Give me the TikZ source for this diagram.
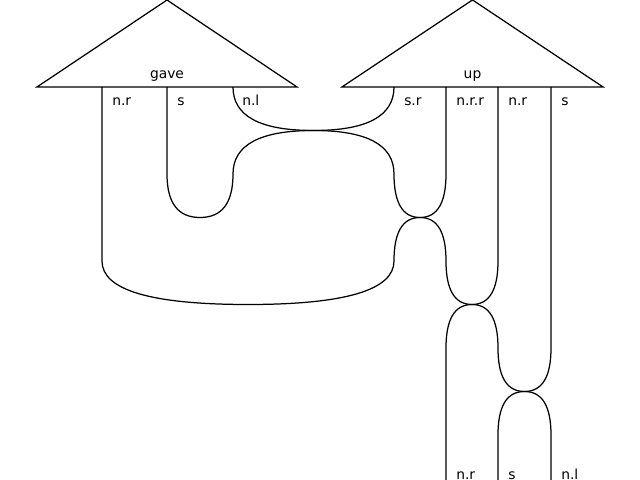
\documentclass[tikz,border=0pt]{standalone}
\usepackage{fontspec}
\setmainfont{DejaVu Sans}
\begin{document}
\begin{tikzpicture}[x=0.01in,y=-0.01in,
  wire/.style={line width=0.9pt},
  box/.style={line width=0.9pt},
  lab/.style={anchor=base west,inner sep=0pt,font=\fontsize{10pt}{12pt}\selectfont},
  boxlab/.style={anchor=base,inner sep=0pt,font=\fontsize{10pt}{12pt}\selectfont}]
\useasboundingbox (0,0) rectangle (640,480);
% triangles
\coordinate (gL) at (37,87); \coordinate (gT) at (167,0); \coordinate (gR) at (297,87);
\coordinate (uL) at (342,87); \coordinate (uT) at (472.5,0); \coordinate (uR) at (603,87);
\draw[box,line join=miter] (gL) -- (gT) -- (gR) -- cycle;
\draw[box,line join=miter] (uL) -- (uT) -- (uR) -- cycle;
\node[boxlab] (gave) at (167,79) {gave};
\node[boxlab] (up) at (472.5,79) {up};
% ports
\coordinate (p1) at (102,87); \coordinate (p2) at (167,87); \coordinate (p3) at (233,87);
\coordinate (p4) at (394,87); \coordinate (p5) at (446,87); \coordinate (p6) at (498,87);
\coordinate (p7) at (551,87);
% meeting points
\coordinate (mA) at (313.5,130.5);
\coordinate (mC) at (200,217.5);
\coordinate (mD) at (420,217.5);
\coordinate (mF) at (248,304.5);
\coordinate (mG) at (472,304.5);
\coordinate (mI) at (524.5,391.5);
% outputs
\coordinate (o1) at (446,480); \coordinate (o2) at (498,480); \coordinate (o3) at (551,480);
% wires
\draw[wire] (p3) .. controls +(0,29) and +(-53.7,0) .. (mA) .. controls +(53.7,0) and +(0,29) .. (p4);
\draw[wire] (233,174) .. controls +(0,-29) and +(-53.7,0) .. (mA) .. controls +(53.7,0) and +(0,-29) .. (394,174);
\draw[wire] (p2) -- (167,174) .. controls +(0,29) and +(-22,0) .. (mC) .. controls +(22,0) and +(0,29) .. (233,174);
\draw[wire] (394,174) .. controls +(0,29) and +(-17.3,0) .. (mD) .. controls +(17.3,0) and +(0,29) .. (446,174) -- (p5);
\draw[wire] (394,261) .. controls +(0,-29) and +(-17.3,0) .. (mD) .. controls +(17.3,0) and +(0,-29) .. (446,261);
\draw[wire] (p1) -- (102,261) .. controls +(0,29) and +(-97.3,0) .. (mF) .. controls +(97.3,0) and +(0,29) .. (394,261);
\draw[wire] (446,261) .. controls +(0,29) and +(-17.3,0) .. (mG) .. controls +(17.3,0) and +(0,29) .. (498,261) -- (p6);
\draw[wire] (o1) -- (446,348) .. controls +(0,-29) and +(-17.3,0) .. (mG) .. controls +(17.3,0) and +(0,-29) .. (498,348);
\draw[wire] (498,348) .. controls +(0,29) and +(-17.7,0) .. (mI) .. controls +(17.7,0) and +(0,29) .. (551,348) -- (p7);
\draw[wire] (o2) -- (498,435) .. controls +(0,-29) and +(-17.7,0) .. (mI) .. controls +(17.7,0) and +(0,-29) .. (551,435) -- (o3);
% labels
\node[lab] (l1) at (112,106) {n.r};
\node[lab] (l2) at (177,106) {s};
\node[lab] (l3) at (242,106) {n.l};
\node[lab] (l4) at (404,106) {s.r};
\node[lab] (l5) at (456,106) {n.r.r};
\node[lab] (l6) at (508,106) {n.r};
\node[lab] (l7) at (561,106) {s};
\node[lab] (b1) at (456,480) {n.r};
\node[lab] (b2) at (508,480) {s};
\node[lab] (b3) at (561,480) {n.l};
\end{tikzpicture}
\end{document}
